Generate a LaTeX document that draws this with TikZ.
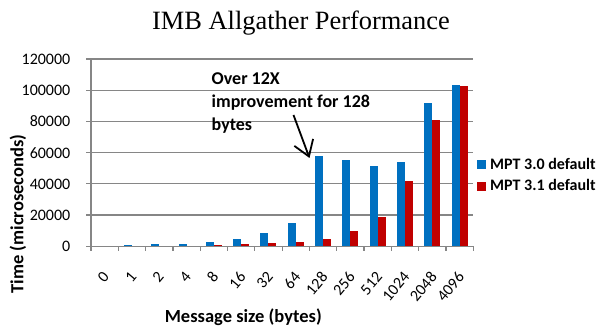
\documentclass[tikz,border=0pt]{standalone}
\usepackage{fontspec}
\setmainfont{Carlito}
\newfontfamily\titlefont{Liberation Serif}
\usetikzlibrary{arrows.meta}
\definecolor{barblue}{HTML}{0070C0}
\definecolor{barred}{HTML}{C00000}
\definecolor{gridgray}{HTML}{868686}
\begin{document}
\begin{tikzpicture}[x=1pt,y=-1pt,
  gridline/.style={draw=gridgray,line width=1.2pt},
  ticklab/.style={font=\fontsize{16}{16}\selectfont,anchor=east,inner sep=0pt},
  xlab/.style={font=\fontsize{16}{16}\selectfont,anchor=east,inner sep=0pt,rotate=50},
  axtitle/.style={font=\bfseries\fontsize{18.5}{18.5}\selectfont,inner sep=0pt,anchor=base},
  legtext/.style={font=\bfseries\fontsize{16}{16}\selectfont,inner sep=0pt,anchor=base west},
  annot/.style={font=\bfseries\fontsize{18}{23}\selectfont,inner sep=0pt,anchor=north west,align=left},
  bluebar/.style={fill=barblue},
  redbar/.style={fill=barred}]
\useasboundingbox (0,0) rectangle (597,328);
% title
\node[font=\titlefont\fontsize{26.4}{26.4}\selectfont,inner sep=0pt,anchor=base] (title) at (301,30) {IMB Allgather Performance};
% gridlines and y tick labels
\foreach \v [count=\i from 0] in {0,20000,40000,60000,80000,100000,120000}{
  \draw[gridline] (86,{246.3-\i*31.2}) -- (473.2,{246.3-\i*31.2});
  \node[ticklab] (yt\i) at (70.5,{246.3-\i*31.2}) {\v};
}
% left axis
\draw[gridline] (91,59.1) -- (91,246.3);
% bottom tick marks
\foreach \k in {0,...,14}{
  \draw[gridline] ({91+\k*27.3},246.3) -- ({91+\k*27.3},251.5);
}
% bars (values in thousands)
\foreach \b/\r [count=\k from 0] in {0/0,1.0/0.2,1.2/0.3,1.7/0.4,2.7/0.8,4.6/1.2,8.5/1.8,14.7/2.8,57.9/4.9,55.3/9.8,51.7/19.0,54.2/41.9,91.7/81.0,103.6/102.8}{
  \pgfmathsetmacro{\c}{91+(\k+0.5)*27.3}
  \fill[bluebar] ({\c-8},246.3) rectangle (\c,{246.3-\b*1.56});
  \fill[redbar] (\c,246.3) rectangle ({\c+8},{246.3-\r*1.56});
}
% redraw baseline over bars
\draw[gridline] (91,246.3) -- (473.2,246.3);
% x tick labels
\foreach \lab [count=\k from 0] in {0,1,2,4,8,16,32,64,128,256,512,1024,2048,4096}{
  \node[xlab] (xt\k) at ({91+(\k+0.5)*27.3+1.5},274) {\lab};
}
% axis titles
\node[axtitle] (xtitle) at (243.3,323) {Message size (bytes)};
\node[axtitle,rotate=90] (ytitle) at (23.3,214) {Time (microseconds)};
% annotation
\node[annot] (note) at (211.5,72) {Over 12X\\improvement for 128\\bytes};
\coordinate (arrA) at (293.5,115);
\coordinate (arrB) at (309.5,158);
\draw[line width=1.8pt,-{Straight Barb[length=15pt,width=20pt,line width=1.8pt]}] (arrA) -- (arrB);
% legend
\fill[bluebar] (476.7,160) rectangle (485.7,169) coordinate (lb);
\fill[redbar] (476.7,181.7) rectangle (485.7,190.7) coordinate (lr);
\node[legtext] (leg1) at (490,169.5) {MPT 3.0 default};
\node[legtext] (leg2) at (490,190.5) {MPT 3.1 default};
\end{tikzpicture}
\end{document}
